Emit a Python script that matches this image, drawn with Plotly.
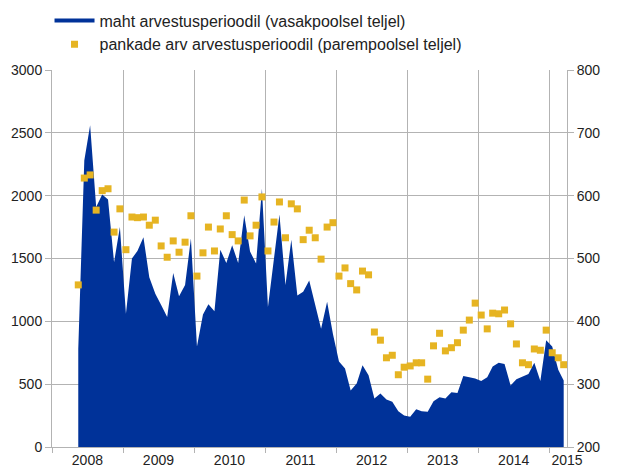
import pandas as pd
import plotly.graph_objects as go

# Monthly observations, May 2008 - March 2015 (plotted mid-month)
months = pd.date_range("2008-05-01", "2015-03-01", freq="MS") + pd.Timedelta(days=14)

# Volume over the accounting period (left axis)
volume = [
    780, 2280, 2560, 1910, 2010, 1970, 1470, 1750,
    1060, 1500, 1560, 1670, 1350, 1220, 1130, 1035, 1385, 1200, 1290, 1660,
    800, 1055, 1135, 1080, 1570, 1465, 1605, 1464, 1845, 1555, 1460, 2055,
    1115, 1480, 1850, 1290, 1650, 1205, 1235, 1325, 1130, 940, 1155, 900,
    680, 625, 450, 505, 650, 570, 385, 425, 377, 360, 285, 250,
    240, 300, 285, 280, 365, 395, 385, 435, 430, 565, 555, 545,
    525, 555, 640, 670, 660, 490, 540, 560, 580, 670, 525, 850,
    800, 615, 530,
]

# Number of banks over the accounting period (right axis)
banks = [
    458, 628, 633, 577, 608, 611, 542, 579,
    514, 566, 565, 566, 553, 561, 520, 502, 528, 510, 526, 568,
    472, 509, 550, 512, 547, 568, 538, 528, 593, 536, 553, 598,
    512, 558, 590, 533, 587, 579, 530, 545, 533, 499, 550, 557,
    472, 485, 460, 450, 480, 474, 383, 370, 342, 346, 315, 327,
    329, 334, 334, 308, 361, 381, 353, 358, 366, 386, 402, 429,
    410, 388, 413, 412, 418, 396, 364, 334, 331, 356, 354, 386,
    350, 342, 331,
]

year_labels = ["2008", "2009", "2010", "2011", "2012", "2013", "2014", "2015"]
year_label_pos = [f"{y}-07-01" for y in range(2008, 2015)] + ["2015-04-01"]

name_volume = "maht arvestusperioodil (vasakpoolsel teljel)"
name_banks = "pankade arv arvestusperioodil (parempoolsel teljel)"

BLUE = "#003299"
GOLD = "#E6B422"
GRID = "#b3b3b3"
FONT = "Liberation Sans, Arial, sans-serif"

fig = go.Figure()

fig.add_trace(go.Scatter(
    x=months, y=volume, mode="lines", fill="tozeroy",
    line=dict(width=0, color=BLUE), fillcolor=BLUE,
    showlegend=False, yaxis="y",
))
# legend entry for the area series, drawn as a thick line
fig.add_trace(go.Scatter(
    x=[None], y=[None], mode="lines", name=name_volume,
    line=dict(color=BLUE, width=4), yaxis="y",
))
fig.add_trace(go.Scatter(
    x=months, y=banks, mode="markers", name=name_banks,
    marker=dict(symbol="square", size=7, color=GOLD, line=dict(width=0)),
    yaxis="y2",
))

fig.update_layout(
    width=619, height=474,
    margin=dict(l=52, r=52, t=70, b=27, autoexpand=False),
    paper_bgcolor="white", plot_bgcolor="white",
    font=dict(family=FONT, size=14, color="#222222"),
    showlegend=True,
    legend=dict(
        xref="container", yref="container",
        x=0.0800, y=0.9926, xanchor="left", yanchor="top",
        orientation="v", itemwidth=40,
        font=dict(size=16, color="#222222"),
        bgcolor="rgba(0,0,0,0)", tracegroupgap=0,
    ),
    xaxis=dict(
        range=["2008-01-01", "2015-04-01"],
        tickmode="array", tickvals=year_label_pos, ticktext=year_labels,
        ticks="", showgrid=False,
        showline=True, linecolor=GRID, linewidth=1,
        tickfont=dict(size=14),
        minor=dict(
            tickmode="linear", tick0="2008-01-01", dtick="M12",
            showgrid=True, gridcolor=GRID, gridwidth=1.2,
            ticks="outside", ticklen=5, tickcolor=GRID,
        ),
        zeroline=False,
    ),
    yaxis=dict(
        range=[0, 3000], tickvals=[0, 500, 1000, 1500, 2000, 2500, 3000],
        showgrid=True, gridcolor=GRID, gridwidth=1.2,
        ticks="outside", ticklen=6, tickcolor=GRID,
        showline=True, linecolor=GRID, linewidth=1,
        zeroline=False, tickfont=dict(size=14),
    ),
    yaxis2=dict(
        range=[200, 800], tickvals=[200, 300, 400, 500, 600, 700, 800],
        overlaying="y", side="right", showgrid=False,
        ticks="outside", ticklen=6, tickcolor=GRID,
        showline=True, linecolor=GRID, linewidth=1,
        zeroline=False, tickfont=dict(size=14),
    ),
)

fig.write_html("out.html")
